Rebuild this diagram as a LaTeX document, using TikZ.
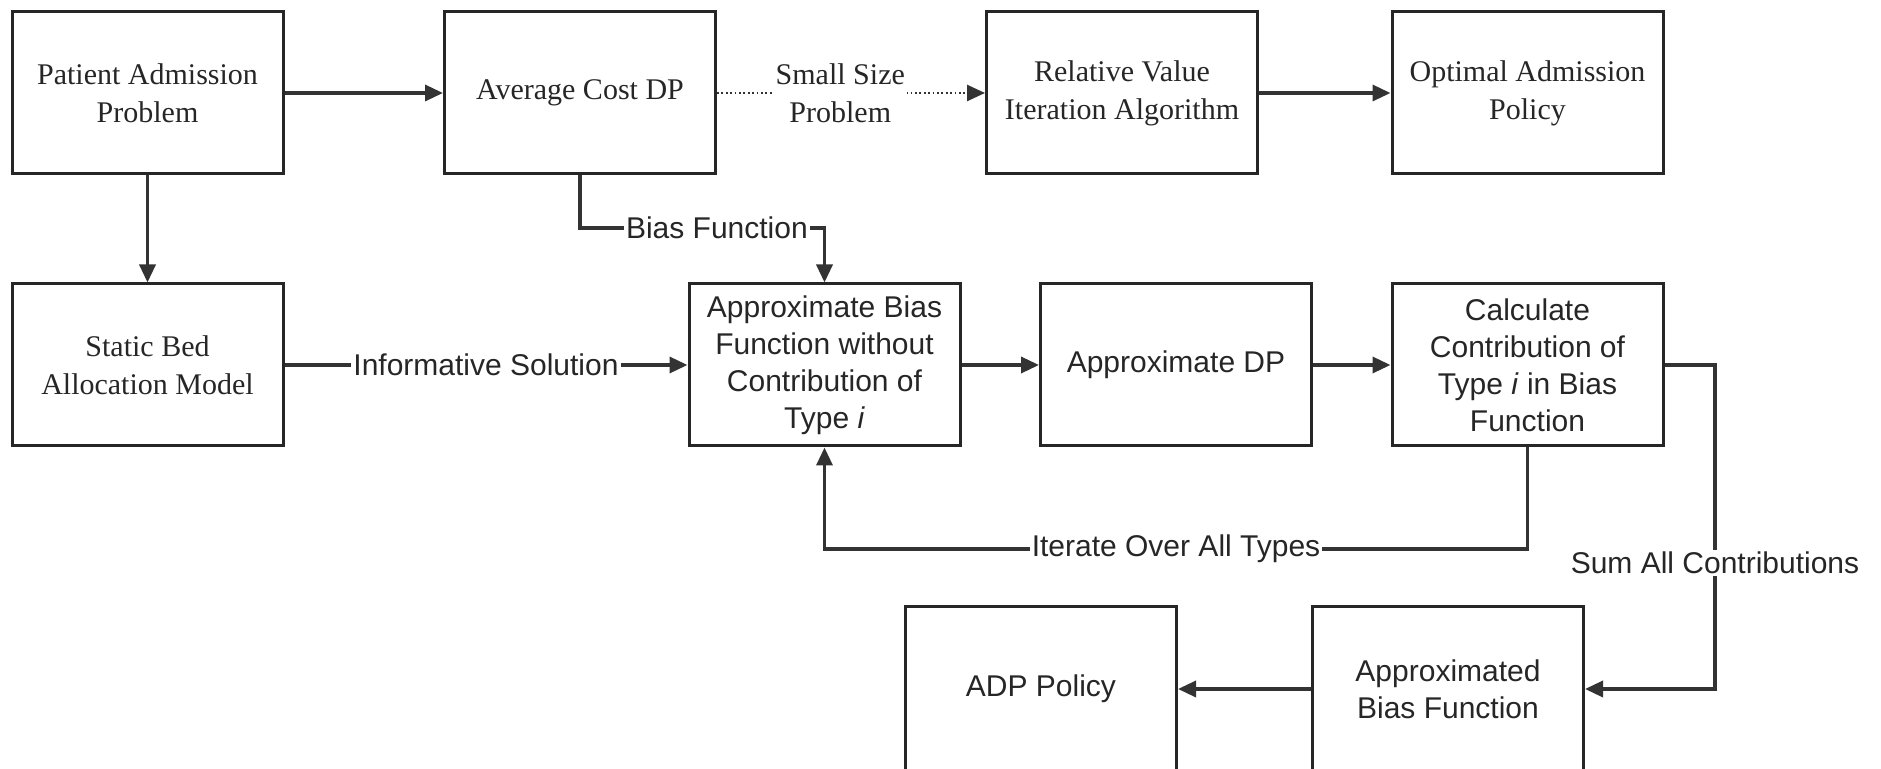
\documentclass[tikz,border=0pt]{standalone}
\usepackage{fontspec}
\setmainfont{Liberation Serif}
\setsansfont{Liberation Sans}
\usetikzlibrary{arrows.meta}
\begin{document}
\begin{tikzpicture}[x=0.5pt,y=-0.5pt,
  box/.style={draw=black!85, line width=1.5pt, minimum width=135.5pt, minimum height=81pt,
    inner sep=2pt, align=center, text=black!85},
  serifbox/.style={box, font=\rmfamily\fontsize{15}{19}\selectfont},
  sansbox/.style={box, font=\sffamily\fontsize{15}{18.5}\selectfont},
  conn/.style={draw=black!80, line width=1.7pt, -{Triangle[length=9pt,width=8pt]}},
  dotconn/.style={conn, line width=1.3pt, dash pattern=on 0.9pt off 1.3pt},
  lbl/.style={fill=white, inner sep=1pt, align=center, text=black!85,
    font=\sffamily\fontsize{15}{18}\selectfont},
  seriflbl/.style={lbl, inner sep=1pt, font=\rmfamily\fontsize{15}{19}\selectfont}]
\useasboundingbox (0,0) rectangle (1881,769);
\clip (0,0) rectangle (1881,769);
% row 1
\node[serifbox] (pap)  at (147.5,93) {Patient Admission\\Problem};
\node[serifbox] (acdp) at (580,93)   {Average Cost DP};
\node[serifbox] (rvia) at (1122,93)  {Relative Value\\Iteration Algorithm};
\node[serifbox] (oap)  at (1527.5,93) {Optimal Admission\\Policy};
% row 2
\node[serifbox] (sba)  at (147.5,365) {Static Bed\\Allocation Model};
\node[sansbox]  (abf)  at (824.5,365) {Approximate Bias\\Function without\\Contribution of\\Type \textit{i}};
\node[sansbox]  (adp)  at (1176,365)  {Approximate DP};
\node[sansbox]  (calc) at (1527.5,365) {Calculate\\Contribution of\\Type \textit{i} in Bias\\Function};
% row 3
\node[sansbox, minimum height=82pt] (adppol) at (1041,689) {ADP Policy};
\node[sansbox, minimum height=82pt] (apxbf)  at (1448,689) {Approximated\\Bias Function};
% helper coordinates
\coordinate (bfy) at (0,228);
\coordinate (ity) at (0,549);
\coordinate (sx)  at (1715,0);
% connectors
\draw[conn] (pap) -- (acdp);
\draw[dotconn] (acdp) -- node[seriflbl, pos=0.46] {Small Size\\Problem} (rvia);
\draw[conn] (rvia) -- (oap);
\draw[conn] (pap) -- (sba);
\draw[conn] (sba) -- node[lbl] {Informative Solution} (abf);
\draw[conn] (abf) -- (adp);
\draw[conn] (adp) -- (calc);
\draw[conn] (acdp.south) -- (acdp.south |- bfy) -- node[lbl, pos=0.56] {Bias Function} (abf.north |- bfy) -- (abf.north);
\draw[conn] (calc.south) -- (calc.south |- ity) -- node[lbl] {Iterate Over All Types} (abf.south |- ity) -- (abf.south);
\draw[conn] (calc.east) -- (calc.east -| sx) -- node[lbl, pos=0.61] {Sum All Contributions} (sx |- apxbf.east) -- (apxbf.east);
\draw[conn] (apxbf) -- (adppol);
\end{tikzpicture}
\end{document}
